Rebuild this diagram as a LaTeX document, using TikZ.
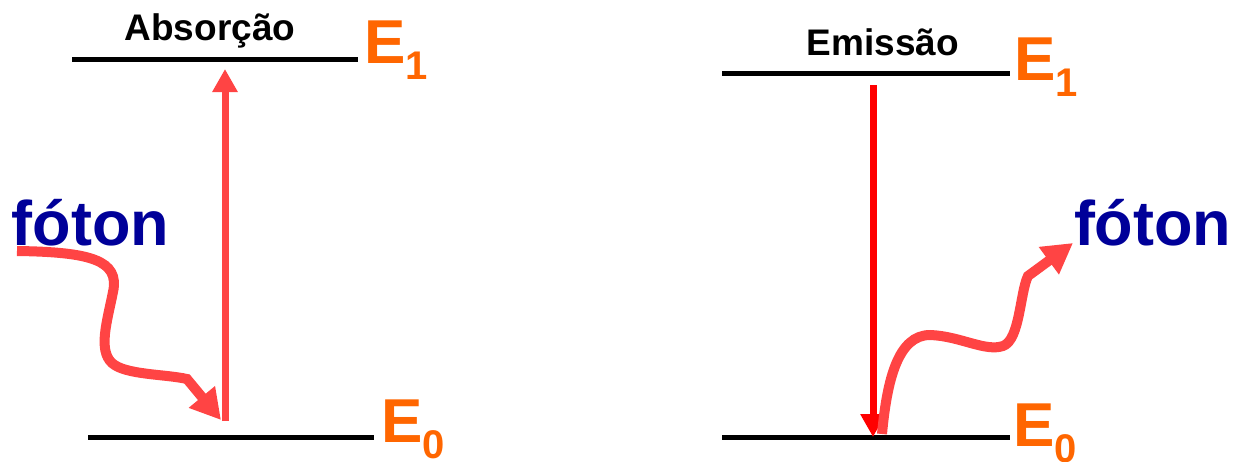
\documentclass[tikz,border=0pt]{standalone}
\usepackage{fontspec}
\setmainfont{Liberation Sans}
\usetikzlibrary{arrows.meta}
\definecolor{lvl}{HTML}{FF6600}
\definecolor{navy}{HTML}{000099}
\definecolor{phot}{HTML}{FF4444}
\definecolor{pure}{HTML}{FF0000}
\newcommand\elev[1]{E\raisebox{-16pt}{\fontsize{40}{40}\selectfont #1}}
\tikzset{
  level/.style={line width=5pt, black},
  title/.style={inner sep=0, outer sep=0, font=\fontsize{37}{37}\selectfont\bfseries, anchor=base},
  elab/.style={inner sep=0, outer sep=0, font=\fontsize{62}{62}\selectfont\bfseries, text=lvl, anchor=base west},
  flab/.style={inner sep=0, outer sep=0, font=\fontsize{63}{63}\selectfont\bfseries, text=navy, anchor=base west},
  wave/.style={line width=10pt, phot, -{Triangle[length=30pt,width=32pt]}},
  trans/.style={line width=7pt, -{Triangle[length=23pt,width=24pt]}},
}
\begin{document}
\begin{tikzpicture}[x=1pt,y=-1pt]
\useasboundingbox (0,0) rectangle (1235,461);
% left: absorption
\coordinate (la1) at (72,59); \coordinate (lb1) at (358,59);
\coordinate (la0) at (88,437); \coordinate (lb0) at (374,437);
\draw[level] (la1) -- (lb1);
\draw[level] (la0) -- (lb0);
\node[title] (abs) at (210,40) {Absorção};
\node[elab] (le1) at (364,63) {\elev{1}};
\node[elab] (le0) at (381,442) {\elev{0}};
\node[flab] (lf) at (12,245) {fóton};
\coordinate (lup0) at (225,421); \coordinate (lup1) at (225,69);
\draw[trans, phot] (lup0) -- (lup1);
\coordinate (lw0) at (17,251); \coordinate (lw1) at (187,379); \coordinate (lw2) at (221,420);
\draw[wave] (lw0) .. controls (90,252) and (120,260) .. (113,292)
  .. controls (107,322) and (98,350) .. (112,363)
  .. controls (125,375) and (165,374) .. (lw1) -- (lw2);
% right: emission
\coordinate (ra1) at (722,73); \coordinate (rb1) at (1010,73);
\coordinate (ra0) at (722,437); \coordinate (rb0) at (1010,437);
\draw[level] (ra1) -- (rb1);
\draw[level] (ra0) -- (rb0);
\node[title] (emi) at (883,55) {Emissão};
\node[elab] (re1) at (1014,80) {\elev{1}};
\node[elab] (re0) at (1013,446) {\elev{0}};
\node[flab] (rf) at (1074,245) {fóton};
\coordinate (rdn1) at (873,85); \coordinate (rdn0) at (873,437);
\draw[trans, pure] (rdn1) -- (rdn0);
\coordinate (rw0) at (882,434); \coordinate (rw1) at (1028,276); \coordinate (rw2) at (1073,243);
\draw[wave] (rw0) .. controls (887,380) and (898,335) .. (930,335)
  .. controls (960,336) and (985,352) .. (1003,346)
  .. controls (1020,340) and (1020,292) .. (rw1) -- (rw2);
\end{tikzpicture}
\end{document}
